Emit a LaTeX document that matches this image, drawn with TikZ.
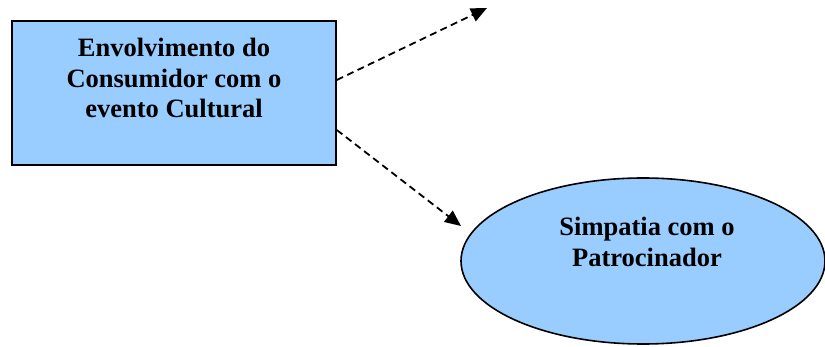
\documentclass[tikz,border=0pt]{standalone}
\usepackage{fontspec}
\setmainfont{Liberation Serif}
\usetikzlibrary{arrows.meta,shapes.geometric}
\definecolor{boxblue}{HTML}{99CCFF}
\tikzset{
  concept/.style={draw=black, line width=1.6pt, fill=boxblue, inner sep=0pt},
  label text/.style={font=\fontsize{26.5}{30.5}\selectfont\bfseries, align=center, inner sep=0pt, anchor=north},
  link/.style={draw=black, line width=1.8pt, dash pattern=on 7pt off 4.5pt,
    -{Triangle[length=16pt,width=14pt]}}
}
\begin{document}
\begin{tikzpicture}[x=1pt,y=-1pt]
  \useasboundingbox (0,0) rectangle (825,347);
  \clip (0,0) rectangle (825,347);

  % source construct
  \node[concept, rectangle, minimum width=324pt, minimum height=144pt] (cons) at (174,93) {};
  \node[label text] (consT) at (174,38) {Envolvimento do\\Consumidor com o\\evento Cultural};

  % target construct
  \node[concept, ellipse, minimum width=364pt, minimum height=166pt] (simp) at (643,261) {};
  \node[label text] (simpT) at (647,217) {Simpatia com o\\Patrocinador};

  % arrow ends
  \coordinate (tipA) at (487,8);
  \coordinate (tipB) at (461,226);

  \draw[link] ([yshift=13pt]cons.east) -- (tipA);
  \draw[link] ([yshift=-37pt]cons.east) -- (tipB);
\end{tikzpicture}
\end{document}
